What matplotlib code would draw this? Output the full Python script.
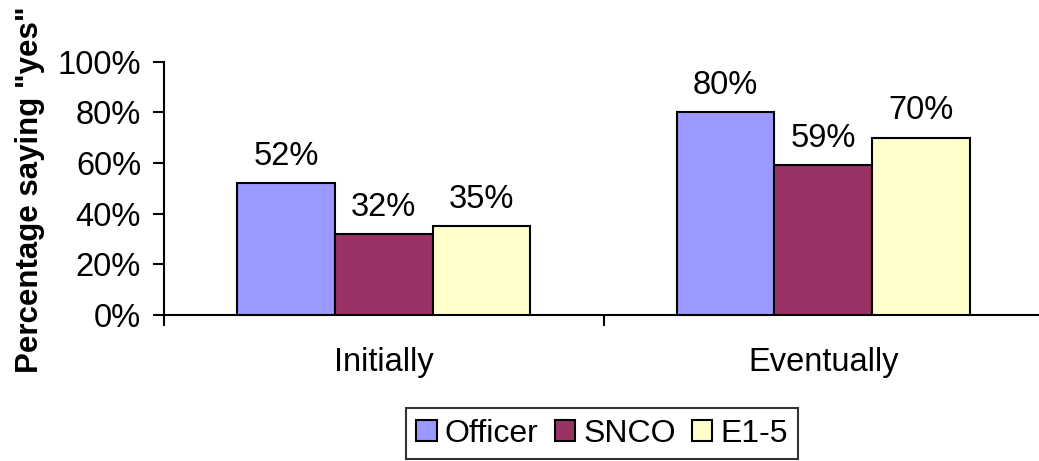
import matplotlib
matplotlib.use("Agg")
import matplotlib.pyplot as plt
from matplotlib.patches import Patch
import numpy as np

plt.rcParams['font.family'] = ['Liberation Sans', 'DejaVu Sans']

categories = ["Initially", "Eventually"]
series_names = ["Officer", "SNCO", "E1-5"]
officer = [52, 80]
snco = [32, 59]
e15 = [35, 70]
colors = ["#9999FF", "#993366", "#FFFFCC"]
yticks = [0, 20, 40, 60, 80, 100]

W, H = 1039, 461
fig = plt.figure(figsize=(W / 100, H / 100), dpi=100)
ax = fig.add_axes([164 / W, (H - 315) / H, (1043 - 164) / W, (315 - 61.5) / H])

FS = 23.5
x = np.arange(len(categories))
bw = 0.222
values = [officer, snco, e15]
for i, (name, vals, c) in enumerate(zip(series_names, values, colors)):
    bars = ax.bar(x + (i - 1) * bw, vals, bw, color=c, edgecolor="black",
                  linewidth=1.5, label=name, zorder=3)
    ax.bar_label(bars, labels=[f"{v}%" for v in vals], padding=8, fontsize=FS)

ax.set_xlim(-0.5, 1.5)
ax.set_ylim(0, 100)
ax.set_yticks(yticks)
ax.set_yticklabels([f"{t}%" for t in yticks], fontsize=FS)
ax.set_xticks([-0.5, 0.5, 1.5])
ax.set_xticklabels([])
ax.set_xticks(x, minor=True)
ax.set_xticklabels(categories, minor=True, fontsize=FS)
ax.tick_params(axis="x", which="minor", length=0, pad=23)
ax.tick_params(axis="x", which="major", length=8, width=1.5, direction="out")
ax.tick_params(axis="y", length=8, width=1.5, direction="out", pad=8.5)

for s in ["top", "right"]:
    ax.spines[s].set_visible(False)
for s in ["left", "bottom"]:
    ax.spines[s].set_linewidth(1.5)

fig.text(30 / W, (H - 190) / H, 'Percentage saying "yes"', rotation=90,
         ha="center", va="center", fontsize=22.5, fontweight="bold")

handles = [Patch(facecolor=c, edgecolor="black", linewidth=1.5) for c in colors]
leg = fig.legend(handles, series_names, loc="center", bbox_to_anchor=(602 / W, (H - 433.5) / H),
                 ncol=3, fontsize=23, frameon=True, fancybox=False, shadow=False,
                 handlelength=0.65, handleheight=0.65, handletextpad=0.25, columnspacing=0.5,
                 borderpad=0.32, borderaxespad=0)
leg.get_frame().set_edgecolor("black")
leg.get_frame().set_linewidth(1.5)

fig.savefig("out.png", dpi=100)
